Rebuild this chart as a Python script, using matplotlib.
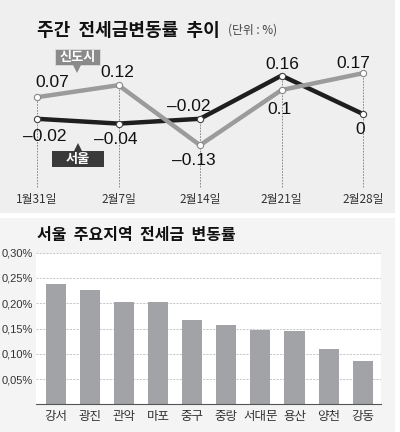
import matplotlib
matplotlib.use("Agg")
import matplotlib.pyplot as plt
from matplotlib.patches import Rectangle, Polygon

plt.rcParams["font.family"] = ["Noto Sans CJK KR", "DejaVu Sans"]

# weekly jeonse price change (%)
dates = ["1월31일", "2월7일", "2월14일", "2월21일", "2월28일"]
newtown = [0.07, 0.12, -0.13, 0.10, 0.17]
seoul = [-0.02, -0.04, -0.02, 0.16, 0.0]
newtown_text = ["0.07", "0.12", "–0.13", "0.1", "0.17"]
seoul_text = ["–0.02", "–0.04", "–0.02", "0.16", "0"]

# seoul districts (%)
districts = ["강서", "광진", "관악", "마포", "중구", "중랑", "서대문", "용산", "양천", "강동"]
district_rates = [0.239, 0.227, 0.203, 0.202, 0.167, 0.156, 0.148, 0.146, 0.109, 0.086]
rate_ticks = [0.05, 0.10, 0.15, 0.20, 0.25, 0.30]
rate_tick_labels = ["0,05%", "0,10%", "0,15%", "0,20%", "0,25%", "0,30%"]

W, H = 400, 432
fig = plt.figure(figsize=(W / 100, H / 100), dpi=100)
fig.patch.set_facecolor("white")


def fx(x):
    return x / W


def fy(y):
    return 1 - y / H


# panel backgrounds
fig.patches.append(Rectangle((fx(0), fy(213)), 395 / W, 213 / H, transform=fig.transFigure,
                             facecolor="#efefef", edgecolor="none", zorder=-5))
fig.patches.append(Rectangle((fx(0), fy(432)), 395 / W, (432 - 218) / H, transform=fig.transFigure,
                             facecolor="#f4f4f4", edgecolor="none", zorder=-5))

# ---- top: line chart ----
ax = fig.add_axes([0, fy(213), 1, 213 / H])
ax.set_facecolor("none")
ax.axis("off")
x0px, stepx = 37, 81.5
y0px, scaley = 114, 240
ax.set_xlim(-x0px / stepx, (W - x0px) / stepx)
ax.set_ylim((y0px - 213) / scaley, y0px / scaley)
xs = list(range(len(dates)))

bottom_v = (y0px - 187) / scaley
for i in xs:
    ax.vlines(i, bottom_v, max(newtown[i], seoul[i]), colors="#7a7a7a",
              linestyles=(0, (2, 1.5)), linewidth=0.6, zorder=1)
    ax.text(i, 1 - 200 / 213, dates[i], transform=ax.get_xaxis_transform(),
            ha="center", va="center", fontsize=8.5, color="#333333")

ax.plot(xs, seoul, color="#1e1e1e", linewidth=3.2, solid_capstyle="butt", zorder=2)
ax.plot(xs, newtown, color="#9b9b9b", linewidth=3.2, solid_capstyle="butt", zorder=3)
ax.plot(xs, seoul, linestyle="none", marker="o", markersize=4.5, markerfacecolor="white",
        markeredgecolor="#444444", markeredgewidth=0.8, zorder=4)
ax.plot(xs, newtown, linestyle="none", marker="o", markersize=4.5, markerfacecolor="white",
        markeredgecolor="#888888", markeredgewidth=0.8, zorder=4)

nt_off = [(15, 15), (-1, 13), (-6, -15), (-2, -20), (-10, 10)]
se_off = [(8, -18), (-3, -16), (-11, 12), (1, 11), (-3, -16)]
lbl = dict(ha="center", va="center", fontsize=12.5, color="#111111",
           family=["Liberation Sans", "DejaVu Sans"], textcoords="offset pixels", zorder=5)
for i in xs:
    ax.annotate(newtown_text[i], (i, newtown[i]), xytext=nt_off[i], **lbl)
    ax.annotate(seoul_text[i], (i, seoul[i]), xytext=se_off[i], **lbl)

# series tags
fig.patches.append(Rectangle((fx(55), fy(65)), 45 / W, 16 / H, transform=fig.transFigure,
                             facecolor="#8a8a8a", edgecolor="#dddddd", linewidth=0.6, zorder=6))
fig.patches.append(Polygon([(fx(73), fy(65)), (fx(81), fy(65)), (fx(77), fy(73))],
                           closed=True, transform=fig.transFigure, facecolor="#8a8a8a",
                           edgecolor="none", zorder=6))
fig.text(fx(77.5), fy(57), "신도시", ha="center", va="center", fontsize=9.5,
         fontweight="bold", color="white", zorder=7)
fig.patches.append(Rectangle((fx(52), fy(167)), 52 / W, 16 / H, transform=fig.transFigure,
                             facecolor="#3a3a3a", edgecolor="none", zorder=6))
fig.patches.append(Polygon([(fx(74), fy(151)), (fx(82), fy(151)), (fx(78), fy(143))],
                           closed=True, transform=fig.transFigure, facecolor="#3a3a3a",
                           edgecolor="none", zorder=6))
fig.text(fx(78), fy(159), "서울", ha="center", va="center", fontsize=9.5,
         fontweight="bold", color="white", zorder=7)

fig.text(fx(37), fy(30), "주간  전세금변동률  추이", ha="left", va="center",
         fontsize=13, fontweight="bold", color="#111111")
fig.text(fx(228), fy(30), "(단위 : %)", ha="left", va="center", fontsize=8.5, color="#444444")

# ---- bottom: bar chart ----
fig.text(fx(37), fy(235), "서울  주요지역  전세금  변동률", ha="left", va="center",
         fontsize=11.5, fontweight="bold", color="#111111")

bx = fig.add_axes([fx(36), fy(404.3), (381 - 36) / W, (404.3 - 252.7) / H])
bx.set_facecolor("white")
c0, stepb = 55.8, 34.1
bx.set_xlim((36 - c0) / stepb, (381 - c0) / stepb)
bx.set_ylim(0, 0.30)
pos = list(range(len(districts)))
bx.bar(pos, district_rates, width=0.59, color="#a2a3a7", zorder=2)
for t in rate_ticks:
    bx.axhline(t, color="#bdbdbd", linewidth=0.6, linestyle=(0, (2.5, 1.5)), zorder=1)
for s in ["top", "right", "left"]:
    bx.spines[s].set_visible(False)
bx.spines["bottom"].set_color("#555555")
bx.spines["bottom"].set_linewidth(0.8)
bx.spines["bottom"].set_zorder(3)
bx.set_yticks(rate_ticks)
bx.set_yticklabels(rate_tick_labels, fontsize=8, color="#333333",
                   family=["Liberation Sans", "DejaVu Sans"])
bx.set_xticks(pos)
bx.set_xticklabels(districts, fontsize=9, color="#333333")
bx.tick_params(axis="both", length=0)
bx.tick_params(axis="y", pad=2)
bx.tick_params(axis="x", pad=4)

fig.savefig("out.png", dpi=100)
